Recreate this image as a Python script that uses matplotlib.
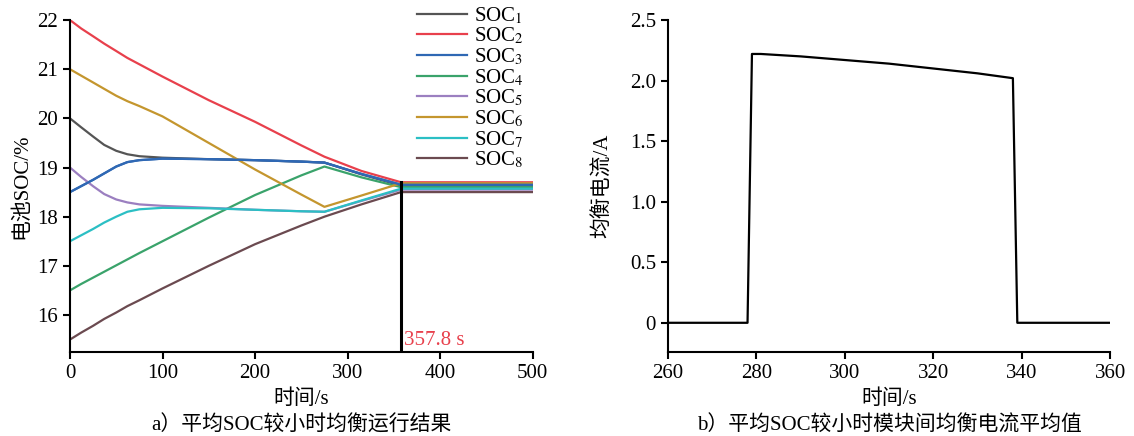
import matplotlib
matplotlib.use("Agg")
import matplotlib.pyplot as plt

plt.rcParams['font.family'] = ['Liberation Serif', 'Noto Sans CJK SC']
plt.rcParams['mathtext.fontset'] = 'stix'
plt.rcParams['font.size'] = 15

# ---- data, panel a ----
t_soc = [0, 12, 25, 37, 50, 62, 75, 100, 150, 200, 250, 275, 315, 357.8, 500]
soc1 = [20.0, 19.82, 19.63, 19.46, 19.34, 19.27, 19.23, 19.20, 19.17, 19.15, 19.12, 19.10, 18.86, 18.63, 18.63]
soc2 = [22.0, 21.83, 21.67, 21.52, 21.37, 21.23, 21.10, 20.85, 20.37, 19.93, 19.45, 19.22, 18.93, 18.70, 18.70]
soc3 = [18.5, 18.62, 18.75, 18.88, 19.02, 19.11, 19.15, 19.18, 19.17, 19.15, 19.12, 19.10, 18.87, 18.65, 18.65]
soc4 = [16.5, 16.63, 16.76, 16.88, 17.01, 17.13, 17.26, 17.50, 17.98, 18.44, 18.84, 19.02, 18.80, 18.60, 18.60]
soc5 = [19.0, 18.81, 18.62, 18.46, 18.35, 18.29, 18.25, 18.22, 18.18, 18.14, 18.11, 18.10, 18.32, 18.55, 18.55]
soc6 = [21.0, 20.87, 20.73, 20.60, 20.46, 20.35, 20.25, 20.04, 19.50, 18.96, 18.45, 18.20, 18.43, 18.68, 18.68]
soc7 = [17.5, 17.62, 17.75, 17.88, 18.00, 18.10, 18.15, 18.18, 18.17, 18.14, 18.11, 18.10, 18.33, 18.57, 18.57]
soc8 = [15.5, 15.64, 15.78, 15.92, 16.05, 16.18, 16.30, 16.54, 17.00, 17.44, 17.82, 18.00, 18.25, 18.50, 18.50]
soc_list = [soc1, soc2, soc3, soc4, soc5, soc6, soc7, soc8]
soc_colors = ['#555555', '#e8404c', '#2f68b4', '#3aa36b', '#9b7fc0', '#c4962e', '#2bbfc4', '#6b4a50']
t_balance = 357.8

# ---- data, panel b ----
t_cur = [260, 278, 279, 281, 290, 300, 310, 320, 330, 338, 339, 360]
i_cur = [0, 0, 2.22, 2.22, 2.20, 2.17, 2.14, 2.10, 2.06, 2.02, 0, 0]

fig = plt.figure(figsize=(11.34, 4.36), dpi=100)
ax1 = fig.add_axes([0.0617, 0.193, 0.408, 0.761])
ax2 = fig.add_axes([0.589, 0.193, 0.390, 0.761])

for ax in (ax1, ax2):
    ax.spines['top'].set_visible(False)
    ax.spines['right'].set_visible(False)
    ax.spines['left'].set_linewidth(1.5)
    ax.spines['bottom'].set_linewidth(1.5)
    ax.tick_params(direction='out', width=1.5, length=5, labelsize=15)

for i, (s, c) in enumerate(zip(soc_list, soc_colors)):
    ax1.plot(t_soc, s, color=c, lw=1.6, label='SOC$_{%d}$' % (i + 1))
ax1.plot(t_soc, soc3, color=soc_colors[2], lw=1.6)  # blue sits on top of gray
ax1.axvline(t_balance, ymax=(18.7 - 15.25) / (22 - 15.25), color='black', lw=2.2)
ax1.text(t_balance + 3, 15.38, '%.1f s' % t_balance, color='#e8404c', fontsize=15)
ax1.set_xlim(0, 500)
ax1.set_ylim(15.25, 22)
ax1.set_xticks([0, 100, 200, 300, 400, 500])
ax1.set_yticks([16, 17, 18, 19, 20, 21, 22])
ax1.set_xlabel('时间/s', fontsize=15, labelpad=5)
ax1.set_ylabel('电池SOC/%', fontsize=15, labelpad=4)
leg = ax1.legend(loc='upper right', bbox_to_anchor=(1.0, 1.07), frameon=False,
                 fontsize=15, handlelength=2.4, labelspacing=0.0, borderaxespad=0,
                 handletextpad=0.35)
ax1.text(0.5, -0.222, 'a）平均SOC较小时均衡运行结果', transform=ax1.transAxes,
         ha='center', va='center', fontsize=15)

ax2.plot(t_cur, i_cur, color='black', lw=1.6)
ax2.set_xlim(260, 360)
ax2.set_ylim(-0.24, 2.5)
ax2.set_xticks([260, 280, 300, 320, 340, 360])
ax2.set_yticks([0, 0.5, 1.0, 1.5, 2.0, 2.5])
ax2.set_yticklabels(['0', '0.5', '1.0', '1.5', '2.0', '2.5'])
ax2.set_xlabel('时间/s', fontsize=15, labelpad=5)
ax2.set_ylabel('均衡电流/A', fontsize=15, labelpad=12)
ax2.text(0.5, -0.222, 'b）平均SOC较小时模块间均衡电流平均值', transform=ax2.transAxes,
         ha='center', va='center', fontsize=15)

fig.savefig('out.png', dpi=100)
